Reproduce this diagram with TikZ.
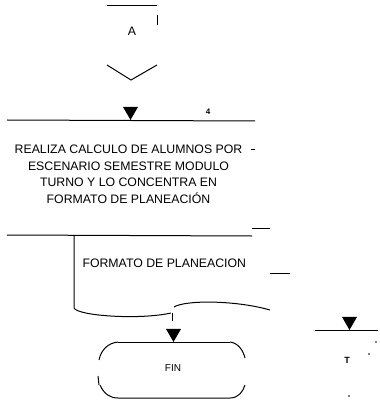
\documentclass[tikz,border=0pt]{standalone}
\usepackage{fontspec}
\setmainfont{Liberation Sans}
\usetikzlibrary{shapes.geometric}

\begin{document}
\begin{tikzpicture}[x=1pt,y=-1pt,line width=1pt]
		\tikzstyle{Flecha}=[regular polygon,regular polygon sides=3,shape border rotate=180,fill=black,inner sep=0pt,outer sep=0pt,minimum size=17.3pt]
		\tikzstyle{Texto}=[inner sep=0pt,font=\fontsize{12.3}{16.5}\selectfont]
		\tikzstyle{Chico}=[inner sep=0pt,font=\fontsize{8}{9}\selectfont]
		\useasboundingbox (0,0) rectangle (379,403);
		% conector A
		\coordinate (A1) at (107,6);
		\coordinate (A2) at (157,6);
		\coordinate (A3) at (157,15);
		\coordinate (A4) at (157,25);
		\node[Texto] (A) at (132,31) {A};
		\coordinate (V1) at (107,65);
		\coordinate (V2) at (131,80);
		\coordinate (V3) at (157,65);
		\draw (A1) -- (A2);
		\draw (A3) -- (A4);
		\draw (V1) -- (V2) -- (V3);
		% paso 4
		\node[Flecha] (F1) at (130.5,111.3) {};
		\node[Chico,font=\fontsize{8}{9}\bfseries] (N4) at (208,112) {4};
		\coordinate (P1) at (7,120);
		\coordinate (P2) at (255,121);
		\draw (P1) -- (P2);
		\node[Texto,align=center] (Paso) at (128.5,174.5) {REALIZA CALCULO DE ALUMNOS POR\\ESCENARIO SEMESTRE MODULO\\TURNO Y LO CONCENTRA EN\\FORMATO DE PLANEACIÓN};
		\coordinate (M1) at (251,149);
		\coordinate (M2) at (255,149);
		\draw[line width=0.6pt] (M1) -- (M2);
		\coordinate (P3) at (7,235);
		\coordinate (P4) at (252,236);
		\draw (P3) -- (P4);
		\coordinate (M3) at (252,228);
		\coordinate (M4) at (270,228);
		\draw (M3) -- (M4);
		% documento
		\coordinate (D1) at (74,236);
		\coordinate (D2) at (74,308);
		\coordinate (D3) at (171,313);
		\coordinate (D4) at (174,307);
		\coordinate (D5) at (270,310);
		\coordinate (D6) at (172,313);
		\coordinate (D7) at (172,321);
		\draw (D1) -- (D2) .. controls (78,316) and (140,320) .. (D3);
		\draw (D4) .. controls (185,300) and (235,300) .. (D5);
		\draw[line width=0.6pt] (D6) -- (D7);
		\node[Texto,anchor=west] (Doc) at (82,263) {FORMATO DE PLANEACION};
		\coordinate (M5) at (270,273);
		\coordinate (M6) at (290,273);
		\draw (M5) -- (M6);
		% fin
		\node[Flecha] (F2) at (173.5,333.3) {};
		\node[Texto,font=\fontsize{10}{12}\selectfont] (Fin) at (173,368) {FIN};
		\coordinate (T1) at (118,342);
		\coordinate (T2) at (230,342);
		\coordinate (T3) at (118,398);
		\coordinate (T4) at (230,398);
		\draw (T1) -- (T2);
		\draw (99,360) .. controls (101,350) and (108,343) .. (T1);
		\draw (98,376) -- (99,385);
		\draw (100,385) .. controls (104,394) and (110,398) .. (T3) -- (T4) .. controls (238,398) and (243,392) .. (245,385);
		\draw (T2) .. controls (238,343) and (243,350) .. (245,358);
		% conector T
		\node[Flecha] (F3) at (349.5,321.3) {};
		\coordinate (R1) at (315,330);
		\coordinate (R2) at (378,330);
		\draw (R1) -- (R2);
		\node[Chico,font=\fontsize{9}{10}\bfseries] (T) at (347,360) {T};
		\fill (376,342) circle (0.8);
		\fill (369,354) circle (0.8);
		\fill (349,396) circle (0.8);
		%\node (G) at (0,0) {};
	\end{tikzpicture}
\end{document}
